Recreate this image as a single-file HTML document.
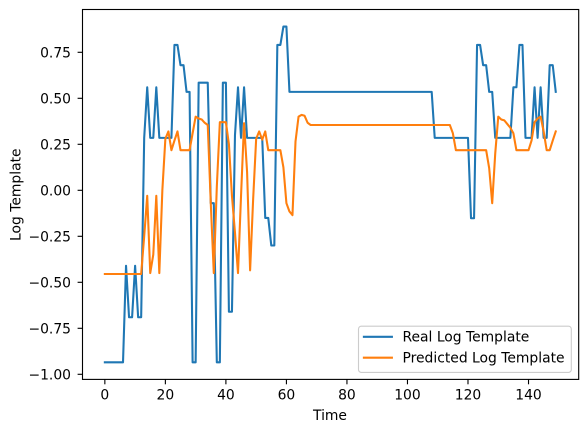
<!DOCTYPE html>
<html>
<head>
<meta charset="utf-8">
<title>Real vs Predicted Log Template</title>
<style>
html,body{margin:0;padding:0;background:#fff;width:587px;height:432px;overflow:hidden}
svg{display:block}
text{font-family:"DejaVu Sans","Liberation Sans",sans-serif;font-size:13.89px;fill:#000}
</style>
</head>
<body>
<svg id="chart" xmlns="http://www.w3.org/2000/svg" width="587" height="432" viewBox="0 0 587 432">
  <rect x="82.5" y="9.5" width="496" height="369.9" fill="#fff"/>
  <g id="lines"></g>
  <g id="ticks"></g>
  <g fill="none" stroke="#000" stroke-width="1.11" stroke-linecap="square">
    <rect x="82.5" y="9.5" width="496.2" height="369.9"/>
  </g>
  <text x="330" y="420" text-anchor="middle">Time</text>
  <text transform="translate(20.5 194.7) rotate(-90)" text-anchor="middle">Log Template</text>
  <g>
    <rect x="358.5" y="326.2" width="212.8" height="46.2" rx="2.8" ry="2.8" fill="#fff" fill-opacity="0.8" stroke="#ccc" stroke-width="1.11"/>
    <line x1="363.9" x2="391.9" y1="336.8" y2="336.8" stroke="#1f77b4" stroke-width="2.08" stroke-linecap="square"/>
    <text x="402.5" y="341.7">Real Log Template</text>
    <line x1="363.9" x2="391.9" y1="357.7" y2="357.7" stroke="#ff7f0e" stroke-width="2.08" stroke-linecap="square"/>
    <text x="402.5" y="362.5">Predicted Log Template</text>
  </g>
</svg>
<script>
var realValues = [
  -0.935,-0.935,-0.935,-0.935,-0.935,-0.935,-0.935,-0.41,-0.69,-0.69,
  -0.41,-0.69,-0.69,0.285,0.56,0.285,0.285,0.56,0.285,0.285,
  0.285,0.285,0.285,0.79,0.79,0.68,0.68,0.535,0.535,-0.935,
  -0.935,0.585,0.585,0.585,0.585,-0.07,-0.07,-0.935,-0.935,0.585,
  0.585,-0.66,-0.66,0.3,0.56,0.285,0.56,0.285,0.285,0.285,
  0.285,0.285,0.285,-0.15,-0.15,-0.3,-0.3,0.79,0.79,0.89,
  0.89,0.535,0.535,0.535,0.535,0.535,0.535,0.535,0.535,0.535,
  0.535,0.535,0.535,0.535,0.535,0.535,0.535,0.535,0.535,0.535,
  0.535,0.535,0.535,0.535,0.535,0.535,0.535,0.535,0.535,0.535,
  0.535,0.535,0.535,0.535,0.535,0.535,0.535,0.535,0.535,0.535,
  0.535,0.535,0.535,0.535,0.535,0.535,0.535,0.535,0.535,0.285,
  0.285,0.285,0.285,0.285,0.285,0.285,0.285,0.285,0.285,0.285,
  0.285,-0.152,-0.152,0.79,0.79,0.68,0.68,0.535,0.535,0.285,
  0.285,0.285,0.285,0.285,0.285,0.56,0.56,0.79,0.79,0.285,
  0.285,0.285,0.56,0.285,0.56,0.285,0.285,0.68,0.68,0.535
];
var predictedValues = [
  -0.455,-0.455,-0.455,-0.455,-0.455,-0.455,-0.455,-0.455,-0.455,-0.455,
  -0.455,-0.455,-0.455,-0.25,-0.03,-0.45,-0.35,-0.03,-0.45,0.0,
  0.28,0.32,0.218,0.27,0.32,0.218,0.218,0.218,0.218,0.31,
  0.4,0.39,0.385,0.367,0.355,-0.07,-0.45,0.02,0.37,0.37,
  0.37,0.25,-0.03,-0.23,-0.45,-0.03,0.365,0.1,-0.435,-0.05,
  0.28,0.32,0.275,0.32,0.218,0.218,0.218,0.218,0.218,0.125,
  -0.07,-0.115,-0.135,0.265,0.4,0.41,0.405,0.367,0.355,0.355,
  0.355,0.355,0.355,0.355,0.355,0.355,0.355,0.355,0.355,0.355,
  0.355,0.355,0.355,0.355,0.355,0.355,0.355,0.355,0.355,0.355,
  0.355,0.355,0.355,0.355,0.355,0.355,0.355,0.355,0.355,0.355,
  0.355,0.355,0.355,0.355,0.355,0.355,0.355,0.355,0.355,0.355,
  0.355,0.355,0.355,0.355,0.355,0.31,0.218,0.218,0.218,0.218,
  0.218,0.218,0.218,0.218,0.218,0.218,0.218,0.12,-0.07,0.2,
  0.4,0.385,0.38,0.36,0.34,0.31,0.218,0.218,0.218,0.218,
  0.218,0.27,0.37,0.39,0.4,0.32,0.218,0.218,0.27,0.32
];
var xTickValues = [0,20,40,60,80,100,120,140];
var yTickValues = [-1,-0.75,-0.5,-0.25,0,0.25,0.5,0.75];

var NS = 'http://www.w3.org/2000/svg';
function xScale(v){ return 104.85 + v * 3.0262; }
function yScale(v){ return 190.3 - v * 184; }
function formatY(v){ var s = Math.abs(v).toFixed(2); return (v < 0 ? '\u2212' : '') + s; }
function make(tag, attrs, parent){
  var el = document.createElementNS(NS, tag);
  for (var k in attrs) el.setAttribute(k, attrs[k]);
  parent.appendChild(el);
  return el;
}
var ticksGroup = document.getElementById('ticks');
var linesGroup = document.getElementById('lines');

xTickValues.forEach(function(v){
  var px = xScale(v);
  var mark = make('line', {x1:px, x2:px, y1:379.4, y2:384.3, stroke:'#000', 'stroke-width':1.11}, ticksGroup);
  
  
  var label = make('text', {x:px, y:399.7, 'text-anchor':'middle'}, ticksGroup);
  label.textContent = String(v);
  
  
});
yTickValues.forEach(function(v){
  var py = yScale(v);
  var mark = make('line', {x1:77.6, x2:82.5, y1:py, y2:py, stroke:'#000', 'stroke-width':1.11}, ticksGroup);
  
  
  var label = make('text', {x:71, y:py + 5.4, 'text-anchor':'end'}, ticksGroup);
  label.textContent = formatY(v);
  
  
});
function pointsFor(values){
  return values.map(function(v, i){ return xScale(i).toFixed(2) + ',' + yScale(v).toFixed(2); }).join(' ');
}
var realLine = make('polyline', {points:pointsFor(realValues), fill:'none', stroke:'#1f77b4', 'stroke-width':2.08, 'stroke-linejoin':'round', 'stroke-linecap':'square'}, linesGroup);


var predictedLine = make('polyline', {points:pointsFor(predictedValues), fill:'none', stroke:'#ff7f0e', 'stroke-width':2.08, 'stroke-linejoin':'round', 'stroke-linecap':'square'}, linesGroup);


</script>
</body>
</html>
